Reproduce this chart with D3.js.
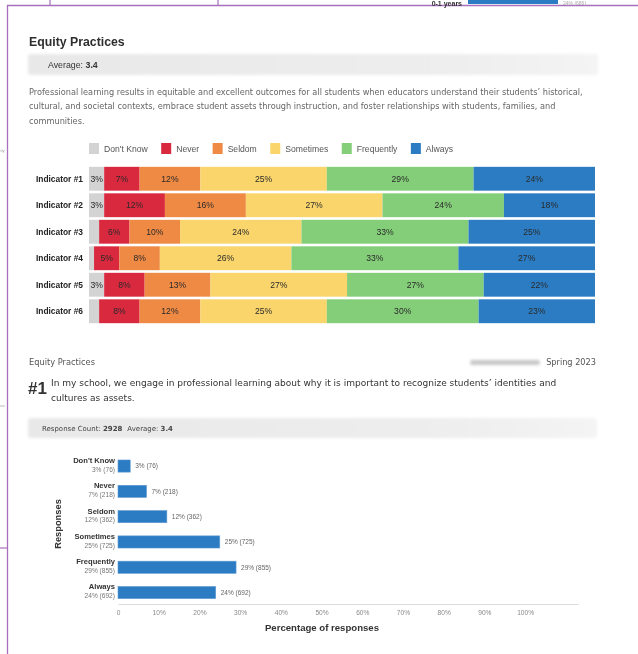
<!DOCTYPE html>
<html><head><meta charset="utf-8">
<script src="https://cdn.jsdelivr.net/npm/d3@7"></script>
<style>
html,body{margin:0;padding:0;background:#fff;}
svg{display:block;font-family:"Liberation Sans",Arial,sans-serif;filter:blur(0.3px);}
.body{font-family:"DejaVu Sans","Liberation Sans",sans-serif;}
</style></head><body>
<svg id="c" width="638" height="654"></svg>
<script>
// ---------- data ----------
const indicators = ["Indicator #1","Indicator #2","Indicator #3","Indicator #4","Indicator #5","Indicator #6"];
const responseLabels = ["Don't Know","Never","Seldom","Sometimes","Frequently","Always"];
const dontKnow   = [3, 3, 2, 1, 3, 2];
const never      = [7, 12, 6, 5, 8, 8];
const seldom     = [12, 16, 10, 8, 13, 12];
const sometimes  = [25, 27, 24, 26, 27, 25];
const frequently = [29, 24, 33, 33, 27, 30];
const always     = [24, 18, 25, 27, 22, 23];
const segColors  = ["#d3d3d3","#d9293f","#ef8a45","#f9d56c","#84ce79","#2b7cc3"];

const responseCounts   = [76, 218, 362, 725, 855, 692];
const responsePercents = [3, 7, 12, 25, 29, 24];
const responseTotal = 2928;
const xTicks = [0,10,20,30,40,50,60,70,80,90,100];

const sectionTitle = "Equity Practices";
const averageValue = "3.4";
const description = [
 "Professional learning results in equitable and excellent outcomes for all students when educators understand their students\u2019 historical,",
 "cultural, and societal contexts, embrace student assets through instruction, and foster relationships with students, families, and",
 "communities."
];
const question = [
 "In my school, we engage in professional learning about why it is important to recognize students\u2019 identities and",
 "cultures as assets."
];

// ---------- helpers ----------
function fitSize(sel, target){
  const n = sel.node(); const s = parseFloat(sel.attr("font-size"));
  const s2 = s*target/n.getComputedTextLength();
  sel.attr("font-size", s2); return s2;
}

// ---------- drawing ----------
const svg = d3.select("#c");
const defs = svg.append("defs");
defs.append("filter").attr("id","soft").attr("x","-5%").attr("y","-50%").attr("width","110%").attr("height","200%")
  .append("feGaussianBlur").attr("stdDeviation",1.6);
const grad = defs.append("linearGradient").attr("id","band");
grad.append("stop").attr("offset","0%").attr("stop-color","#e8e8e8");
grad.append("stop").attr("offset","70%").attr("stop-color","#ededed");
grad.append("stop").attr("offset","100%").attr("stop-color","#f4f4f4");

// scan artefacts (page edges)
const purple = "#a86fbd";
svg.append("line").attr("x1",7.5).attr("x2",7.5).attr("y1",5).attr("y2",654).attr("stroke",purple).attr("stroke-width",1.3);
svg.append("line").attr("x1",7).attr("x2",638).attr("y1",5.5).attr("y2",5.5).attr("stroke",purple).attr("stroke-width",1.3);
svg.append("line").attr("x1",50).attr("x2",50).attr("y1",0).attr("y2",5).attr("stroke",purple).attr("stroke-width",1.2);
svg.append("line").attr("x1",218).attr("x2",218).attr("y1",0).attr("y2",5).attr("stroke",purple).attr("stroke-width",1.2);
svg.append("line").attr("x1",0).attr("x2",7).attr("y1",548).attr("y2",548).attr("stroke",purple).attr("stroke-width",1.2);
svg.append("text").attr("x",462).attr("y",5.5).attr("text-anchor","end").attr("font-size",7).attr("font-weight","bold").attr("fill","#333").text("0-1 years");
svg.append("rect").attr("x",468).attr("y",-6).attr("width",90).attr("height",10).attr("fill","#2b7cc3");
svg.append("text").attr("x",563).attr("y",4.5).attr("font-size",5).attr("fill","#aaa").text("24% (686)");
svg.append("text").attr("x",0.5).attr("y",152).attr("font-size",4).attr("fill","#999").text("ity");
svg.append("line").attr("x1",0).attr("x2",5).attr("y1",406).attr("y2",406).attr("stroke","#aaa").attr("stroke-width",0.8);

// ---------- header ----------
svg.append("text").attr("x",29).attr("y",45.5).attr("font-size",12.3).attr("font-weight","bold").attr("fill","#2e2e2e").text(sectionTitle);
svg.append("rect").attr("x",28).attr("y",54).attr("width",570).attr("height",21).attr("rx",3).attr("fill","url(#band)").attr("filter","url(#soft)");
const avg = svg.append("text").attr("x",48).attr("y",67.5).attr("font-size",8.8).attr("fill","#333");
avg.append("tspan").attr("font-weight","500").text("Average: ");
avg.append("tspan").attr("font-weight","bold").text(averageValue);

const desc = svg.append("g").attr("class","body").selectAll("text").data(description).join("text")
  .attr("x",29).attr("y",(d,i)=>95+i*14.3).attr("font-size",8).attr("fill","#666").text(d=>d);
const dSize = fitSize(d3.select(desc.nodes()[0]), 554);
desc.attr("font-size", dSize);

// ---------- legend ----------
const legend = svg.append("g");
let lx = 89;
responseLabels.forEach((lab,i)=>{
  legend.append("rect").attr("x",lx).attr("y",143).attr("width",10).attr("height",11).attr("fill",segColors[i]);
  const t = legend.append("text").attr("x",lx+15).attr("y",151.8).attr("font-size",8.6).attr("fill","#555").text(lab);
  lx = lx + 15 + t.node().getComputedTextLength() + 13.5;
});

// ---------- stacked bars ----------
const series = [dontKnow, never, seldom, sometimes, frequently, always];
const rows = indicators.map((name,r)=>{
  let acc = 0;
  return {name, segs: series.map((s,k)=>{const o={k, v:s[r], x0:acc}; acc+=s[r]; return o;})};
});
const xs = d3.scaleLinear().domain([0,100]).range([89,595]);
const ys = d3.scaleBand().domain(indicators).range([165.5,324.5]).paddingInner(0.1).paddingOuter(0.05);

const rowG = svg.append("g").selectAll("g").data(rows).join("g").attr("transform",d=>`translate(0,${ys(d.name)})`);
rowG.selectAll("rect").data(d=>d.segs).join("rect")
  .attr("x",d=>xs(d.x0)).attr("width",d=>xs(d.x0+d.v)-xs(d.x0)).attr("y",0).attr("height",ys.bandwidth())
  .attr("fill",d=>segColors[d.k]);
rowG.selectAll("text.v").data(d=>d.segs.filter(s=>s.v>=3)).join("text").attr("class","v")
  .attr("x",d=>xs(d.x0+d.v/2)).attr("y",ys.bandwidth()/2+3).attr("text-anchor","middle")
  .attr("font-size",8.6).attr("fill","#2a2a2a").text(d=>d.v+"%");
svg.append("g").selectAll("text").data(indicators).join("text")
  .attr("x",83).attr("y",d=>ys(d)+ys.bandwidth()/2+3).attr("text-anchor","end")
  .attr("font-size",8.4).attr("font-weight","bold").attr("fill","#222").text(d=>d);

// ---------- question section ----------
const sh = svg.append("text").attr("class","body").attr("x",29).attr("y",365).attr("font-size",7).attr("fill","#555").text(sectionTitle);
fitSize(sh, 66);
svg.append("rect").attr("x",470).attr("y",360).attr("width",70).attr("height",5).attr("rx",2.5).attr("fill","#c8c8c8").attr("filter","url(#soft)");
const sp = svg.append("text").attr("class","body").attr("x",596).attr("y",365).attr("text-anchor","end").attr("font-size",7).attr("fill","#555").text("Spring 2023");
fitSize(sp, 50);
svg.append("text").attr("x",28).attr("y",393.5).attr("font-size",17).attr("font-weight","bold").attr("fill","#333").text("#1");
const q = svg.append("g").attr("class","body").selectAll("text").data(question).join("text")
  .attr("x",51).attr("y",(d,i)=>385.5+i*15.5).attr("font-size",8).attr("fill","#333").text(d=>d);
const qSize = fitSize(d3.select(q.nodes()[0]), 506);
q.attr("font-size", qSize);

svg.append("rect").attr("x",28).attr("y",418).attr("width",569).attr("height",20).attr("rx",3).attr("fill","url(#band)").attr("filter","url(#soft)");
const rc = svg.append("text").attr("class","body").attr("x",42).attr("y",430.5).attr("font-size",7).attr("fill","#444");
rc.append("tspan").text("Response Count: ");
rc.append("tspan").attr("font-weight","bold").text(String(responseTotal));
rc.append("tspan").attr("dx",5).text("Average: ");
rc.append("tspan").attr("font-weight","bold").text(averageValue);
fitSize(rc, 126);

// ---------- horizontal bar chart ----------
const hx = d3.scaleLinear().domain([0,113]).range([118,578]);
const hy = d3.scaleBand().domain(responseLabels).range([453.4,605.2]).paddingInner(0.52).paddingOuter(0.26);

const axisG = svg.append("g").attr("transform","translate(0,604)")
  .call(d3.axisBottom(hx).tickValues(xTicks).tickSize(0).tickPadding(6).tickFormat(d=>d===0?"0":d+"%"));
axisG.select(".domain").attr("stroke","#dcdcdc").attr("stroke-width",1);
axisG.selectAll("text").attr("font-size",6.6).attr("fill","#888").attr("font-family","Liberation Sans, Arial, sans-serif");

svg.append("g").selectAll("rect").data(responseLabels).join("rect")
  .attr("x",hx(0)).attr("y",d=>hy(d)).attr("width",(d,i)=>hx(responsePercents[i])-hx(0)).attr("height",hy.bandwidth())
  .attr("fill","#2b7cc3").attr("stroke","#5f9bd3").attr("stroke-width",0.6);
svg.append("g").selectAll("text").data(responseLabels).join("text")
  .attr("x",(d,i)=>hx(responsePercents[i])+5).attr("y",d=>hy(d)+hy.bandwidth()/2+2.3)
  .attr("font-size",6.5).attr("fill","#666").text((d,i)=>`${responsePercents[i]}% (${responseCounts[i]})`);
const catG = svg.append("g");
catG.selectAll("text.n").data(responseLabels).join("text").attr("class","n")
  .attr("x",115).attr("y",d=>hy(d)+3).attr("text-anchor","end")
  .attr("font-size",7.6).attr("font-weight","bold").attr("fill","#333").text(d=>d);
catG.selectAll("text.p").data(responseLabels).join("text").attr("class","p")
  .attr("x",115).attr("y",d=>hy(d)+hy.bandwidth()-0.5).attr("text-anchor","end")
  .attr("font-size",6.6).attr("fill","#777").text((d,i)=>`${responsePercents[i]}% (${responseCounts[i]})`);

svg.append("text").attr("transform","translate(61,524) rotate(-90)").attr("text-anchor","middle")
  .attr("font-size",9.3).attr("font-weight","bold").attr("fill","#333").text("Responses");
svg.append("text").attr("x",322).attr("y",631).attr("text-anchor","middle")
  .attr("font-size",9.6).attr("font-weight","bold").attr("fill","#333").text("Percentage of responses");
</script>
</body></html>
